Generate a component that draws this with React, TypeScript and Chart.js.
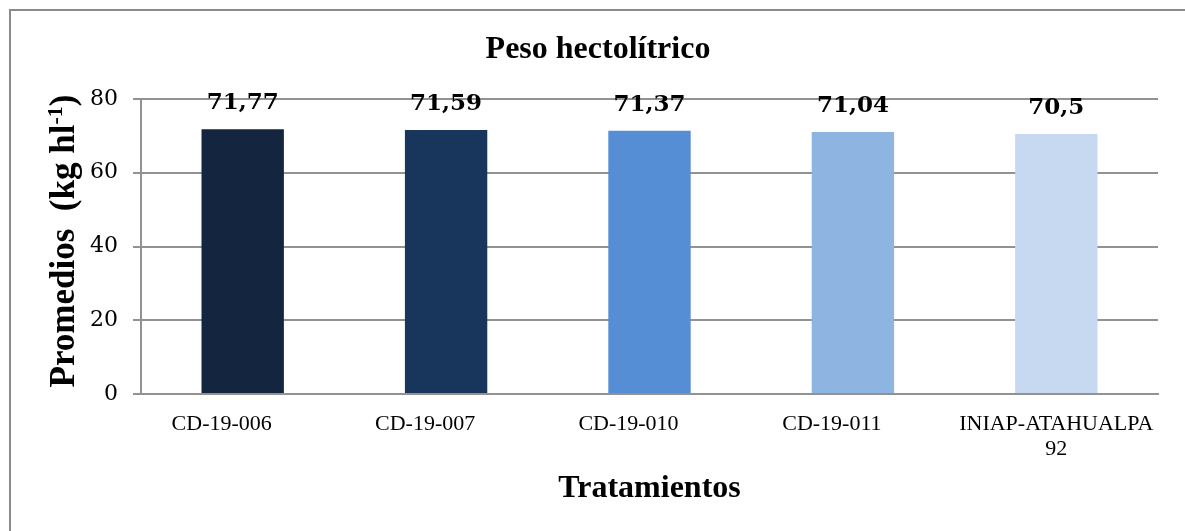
import React, { useEffect, useRef } from "react";
import { Chart, registerables } from "chart.js";

Chart.register(...registerables);

const categories: (string | string[])[] = ["CD-19-006", "CD-19-007", "CD-19-010", "CD-19-011", ["INIAP-ATAHUALPA", "92"]];
const values: number[] = [71.77, 71.59, 71.37, 71.04, 70.5];
const barColors: string[] = ["#13253F", "#18365C", "#558ED5", "#8EB4E2", "#C6D9F1"];
const yTicks: number[] = [0, 20, 40, 60, 80];
const chartTitle = "Peso hectolítrico";
const xTitle = "Tratamientos";
const yTitleMain = "Promedios  (kg hl";
const yTitleSup = "-1";
const yTitleEnd = ")";

const GRID = "#929292";
const SERIF = "'Liberation Serif', 'Times New Roman', serif";
const TICKFONT = "'DejaVu Serif', Cambria, serif";
const SINGLE_LINE_SHIFT = -21; // single-line category labels sit left of bar centre in the original

const decorPlugin = {
  id: "decor",
  afterDraw(chart: any) {
    const ctx = chart.ctx as CanvasRenderingContext2D;
    const area = chart.chartArea;
    const xScale = chart.scales.x;
    ctx.save();
    ctx.strokeStyle = "#8a8a8a";
    ctx.lineWidth = 2;
    ctx.beginPath();
    ctx.moveTo(10, chart.height + 5);
    ctx.lineTo(10, 10);
    ctx.lineTo(chart.width + 5, 10);
    ctx.stroke();

    ctx.fillStyle = "#000";
    ctx.font = `22px ${SERIF}`;
    ctx.textAlign = "center";
    ctx.textBaseline = "alphabetic";
    categories.forEach((lab, i) => {
      const px = xScale.getPixelForTick(i);
      const lines = Array.isArray(lab) ? lab : [lab];
      const dx = lines.length > 1 ? 0 : SINGLE_LINE_SHIFT;
      lines.forEach((ln, j) => {
        ctx.fillText(ln, px + dx, area.bottom + 36 + j * 25);
      });
    });

    ctx.font = `bold 32px ${SERIF}`;
    ctx.fillText(chartTitle, 598, 58);

    ctx.font = `bold 32px ${SERIF}`;
    ctx.fillText(xTitle, (area.left + area.right) / 2, 497);

    const mainFont = `bold 35px ${SERIF}`;
    const supFont = `bold 22px ${SERIF}`;
    ctx.font = mainFont;
    const w1 = ctx.measureText(yTitleMain).width;
    const w3 = ctx.measureText(yTitleEnd).width;
    ctx.font = supFont;
    const w2 = ctx.measureText(yTitleSup).width;
    const total = w1 + w2 + w3;
    ctx.translate(74, 241);
    ctx.rotate(-Math.PI / 2);
    ctx.textAlign = "left";
    let x = -total / 2;
    ctx.font = mainFont;
    ctx.fillText(yTitleMain, x, 0);
    x += w1;
    ctx.font = supFont;
    ctx.fillText(yTitleSup, x, -12);
    x += w2;
    ctx.font = mainFont;
    ctx.fillText(yTitleEnd, x, 0);
    ctx.restore();
  },
  afterDatasetsDraw(chart: any) {
    const ctx = chart.ctx as CanvasRenderingContext2D;
    const meta = chart.getDatasetMeta(0);
    ctx.save();
    ctx.fillStyle = "#000";
    ctx.font = `bold 23px ${TICKFONT}`;
    ctx.textAlign = "center";
    ctx.textBaseline = "middle";
    meta.data.forEach((bar: any, i: number) => {
      const label = String(values[i]).replace(".", ",");
      ctx.fillText(label, bar.x, bar.y - 26);
    });
    ctx.restore();
  },
};

export default function App() {
  const ref = useRef<HTMLCanvasElement | null>(null);
  useEffect(() => {
    if (!ref.current) return;
    const chart = new Chart(ref.current, {
      type: "bar",
      data: {
        labels: categories,
        datasets: [
          {
            data: values,
            backgroundColor: barColors,
            borderWidth: 0,
            categoryPercentage: 1,
            barPercentage: 0.405,
          },
        ],
      },
      options: {
        animation: false,
        responsive: false,
        events: [],
        layout: { padding: { left: 0, right: 27, top: 99, bottom: 0 } },
        plugins: { legend: { display: false }, title: { display: false }, tooltip: { enabled: false } },
        scales: {
          x: {
            grid: { display: false, drawTicks: false },
            border: { display: true, color: GRID, width: 2 },
            ticks: { display: false },
            afterFit: (scale: any) => {
              scale.height = 137;
            },
          },
          y: {
            min: 0,
            max: 80,
            afterBuildTicks: (scale: any) => {
              scale.ticks = yTicks.map((v) => ({ value: v }));
            },
            grid: { color: GRID, lineWidth: 2, tickLength: 8, drawTicks: true },
            border: { display: true, color: GRID, width: 2 },
            ticks: {
              color: "#000",
              font: { family: TICKFONT, size: 22 },
              padding: 15,
            },
            afterFit: (scale: any) => {
              scale.width = 141;
            },
          },
        },
      },
      plugins: [decorPlugin],
    });
    return () => chart.destroy();
  }, []);
  return (
    <div style={{ position: "absolute", left: 0, top: 0, width: 1185, height: 531, background: "#fff" }}>
      <canvas ref={ref} width={1185} height={531} style={{ display: "block" }} />
    </div>
  );
}
